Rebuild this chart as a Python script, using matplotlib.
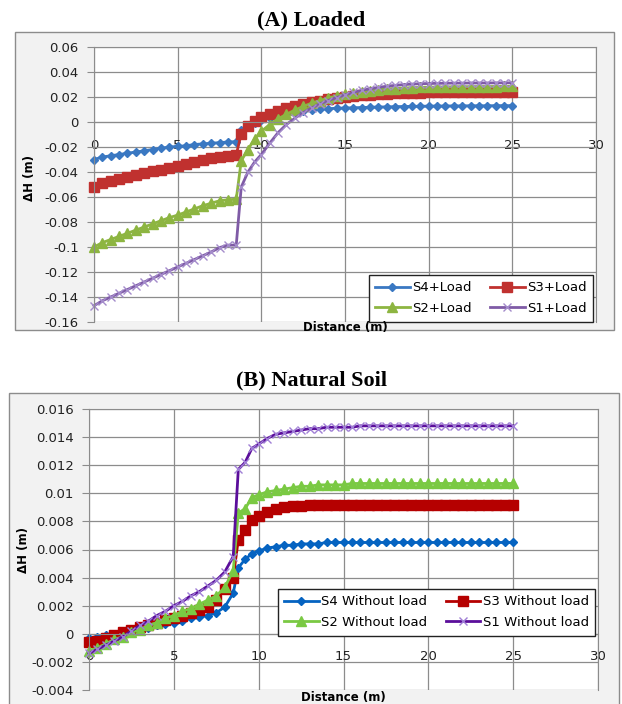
import matplotlib
matplotlib.use('Agg')
import matplotlib.pyplot as plt
from matplotlib.patches import Rectangle
from matplotlib.ticker import FuncFormatter

plt.rcParams['axes.unicode_minus'] = False
plt.rcParams['font.family'] = 'DejaVu Sans'

# distance along the section (m)
distance = [0, 0.5, 1, 1.5, 2, 2.5, 3, 3.5, 4, 4.5, 5, 5.5, 6, 6.5, 7, 7.5, 8, 8.5,
            8.8, 9.2, 9.6,
            10, 10.5, 11, 11.5, 12, 12.5, 13, 13.5, 14, 14.5, 15, 15.5, 16, 16.5, 17, 17.5,
            18, 18.5, 19, 19.5, 20, 20.5, 21, 21.5, 22, 22.5, 23, 23.5, 24, 24.5, 25]

# (A) loaded
s4_load = [-0.030, -0.028, -0.027, -0.026, -0.025, -0.024, -0.023, -0.022, -0.021, -0.020,
           -0.0195, -0.019, -0.018, -0.0175, -0.017, -0.0165, -0.016, -0.0157,
           -0.0064, -0.0030, -0.0005,
           0.0015, 0.0035, 0.0052, 0.0068, 0.0082, 0.0091, 0.0098, 0.0103, 0.0107, 0.0110,
           0.0112, 0.0114, 0.0116, 0.0118, 0.0120, 0.0121, 0.0123, 0.0124, 0.0125, 0.0126,
           0.0127, 0.0128, 0.0128, 0.0129, 0.0129, 0.0130, 0.0130, 0.0130, 0.0131, 0.0131, 0.0131]
s3_load = [-0.052, -0.049, -0.047, -0.0455, -0.044, -0.0425, -0.041, -0.0395, -0.038, -0.0365,
           -0.035, -0.0335, -0.032, -0.0305, -0.029, -0.0278, -0.0268, -0.0262,
           -0.0095, -0.0035, 0.0010,
           0.0042, 0.0068, 0.0092, 0.0113, 0.0130, 0.0146, 0.0160, 0.0172, 0.0183, 0.0193,
           0.0201, 0.0208, 0.0214, 0.0219, 0.0223, 0.0227, 0.0230, 0.0232, 0.0234, 0.0236,
           0.0237, 0.0238, 0.0239, 0.0240, 0.0241, 0.0241, 0.0242, 0.0242, 0.0243, 0.0243, 0.0243]
s2_load = [-0.100, -0.0965, -0.094, -0.0915, -0.089, -0.0865, -0.084, -0.0815, -0.079, -0.0765,
           -0.0745, -0.072, -0.0695, -0.067, -0.065, -0.063, -0.0622, -0.0618,
           -0.031, -0.022, -0.0135,
           -0.0075, -0.0020, 0.0025, 0.0062, 0.0095, 0.0125, 0.0150, 0.0172, 0.0192, 0.0208,
           0.0222, 0.0234, 0.0244, 0.0252, 0.0259, 0.0264, 0.0268, 0.0272, 0.0275, 0.0277,
           0.0279, 0.0280, 0.0281, 0.0282, 0.0283, 0.0283, 0.0284, 0.0284, 0.0284, 0.0285, 0.0285]
s1_load = [-0.147, -0.143, -0.140, -0.137, -0.134, -0.131, -0.128, -0.125, -0.122, -0.119,
           -0.116, -0.113, -0.110, -0.107, -0.104, -0.1005, -0.0985, -0.0985,
           -0.052, -0.040, -0.032,
           -0.026, -0.017, -0.0085, -0.002, 0.003, 0.0075, 0.0112, 0.0145, 0.0172, 0.0196,
           0.0218, 0.0237, 0.0253, 0.0266, 0.0277, 0.0286, 0.0293, 0.0299, 0.0303, 0.0306,
           0.0308, 0.0309, 0.0310, 0.0311, 0.0311, 0.0312, 0.0312, 0.0312, 0.0313, 0.0313, 0.0313]

# (B) natural soil
s4_nat = [-0.0003, -0.0002, -0.0001, 0.0000, 0.0001, 0.0002, 0.0003, 0.0004, 0.0006, 0.0007,
          0.0008, 0.0009, 0.0011, 0.0012, 0.0013, 0.0015, 0.0019, 0.0029,
          0.0047, 0.0053, 0.0057,
          0.0059, 0.0061, 0.0062, 0.0063, 0.0063, 0.0064, 0.0064, 0.0064, 0.0065, 0.0065,
          0.0065, 0.0065, 0.0065, 0.0065, 0.0065, 0.0065, 0.0065, 0.0065, 0.0065, 0.0065,
          0.0065, 0.0065, 0.0065, 0.0065, 0.0065, 0.0065, 0.0065, 0.0065, 0.0065, 0.0065, 0.0065]
s3_nat = [-0.0006, -0.0005, -0.0003, -0.0001, 0.0001, 0.0003, 0.0005, 0.0006, 0.0008, 0.0010,
          0.0011, 0.0013, 0.0015, 0.0017, 0.0019, 0.0024, 0.0032, 0.0040,
          0.0067, 0.0074, 0.0081,
          0.0084, 0.0087, 0.0089, 0.0090, 0.0091, 0.0091, 0.0092, 0.0092, 0.0092, 0.0092,
          0.0092, 0.0092, 0.0092, 0.0092, 0.0092, 0.0092, 0.0092, 0.0092, 0.0092, 0.0092,
          0.0092, 0.0092, 0.0092, 0.0092, 0.0092, 0.0092, 0.0092, 0.0092, 0.0092, 0.0092, 0.0092]
s2_nat = [-0.0012, -0.0010, -0.0007, -0.0004, -0.0002, 0.0001, 0.0003, 0.0006, 0.0008, 0.0011,
          0.0013, 0.0016, 0.0018, 0.0021, 0.0024, 0.0027, 0.0033, 0.0045,
          0.0086, 0.0089, 0.0097,
          0.0099, 0.0101, 0.0102, 0.0103, 0.0104, 0.0105, 0.0105, 0.0106, 0.0106, 0.0106,
          0.0106, 0.0107, 0.0107, 0.0107, 0.0107, 0.0107, 0.0107, 0.0107, 0.0107, 0.0107,
          0.0107, 0.0107, 0.0107, 0.0107, 0.0107, 0.0107, 0.0107, 0.0107, 0.0107, 0.0107, 0.0107]
s1_nat = [-0.0014, -0.0011, -0.0008, -0.0005, -0.0002, 0.0002, 0.0006, 0.0009, 0.0013, 0.0016,
          0.0020, 0.0023, 0.0027, 0.0030, 0.0034, 0.0038, 0.0044, 0.0055,
          0.0117, 0.0122, 0.0132,
          0.0135, 0.0139, 0.0142, 0.0143, 0.0144, 0.0145, 0.0146, 0.0146, 0.0147, 0.0147,
          0.0147, 0.0147, 0.0148, 0.0148, 0.0148, 0.0148, 0.0148, 0.0148, 0.0148, 0.0148,
          0.0148, 0.0148, 0.0148, 0.0148, 0.0148, 0.0148, 0.0148, 0.0148, 0.0148, 0.0148, 0.0148]

labels_load = ['S4+Load', 'S3+Load', 'S2+Load', 'S1+Load']
labels_nat = ['S4 Without load', 'S3 Without load', 'S2 Without load', 'S1 Without load']
yticks_load = [0.06, 0.04, 0.02, 0, -0.02, -0.04, -0.06, -0.08, -0.1, -0.12, -0.14, -0.16]
yticks_nat = [0.016, 0.014, 0.012, 0.01, 0.008, 0.006, 0.004, 0.002, 0, -0.002, -0.004]

W, H = 622, 704


def fx(px):
    return px / W


def fy(py):
    return 1 - py / H


fig = plt.figure(figsize=(W / 100, H / 100), dpi=100)
fig.patch.set_facecolor('white')


def frame(x0, y0, x1, y1):
    fig.add_artist(Rectangle((fx(x0), fy(y1)), fx(x1) - fx(x0), fy(y0) - fy(y1),
                             transform=fig.transFigure, facecolor='#f2f2f2',
                             edgecolor='#8c8c8c', lw=1, zorder=0))


def panel(box, ylim, yticks, series, labels, styles, legend_at, title, title_y,
          ylab_xy, xlab_xy):
    x0, y0, x1, y1 = box
    ax = fig.add_axes([fx(x0), fy(y1), fx(x1) - fx(x0), fy(y0) - fy(y1)])
    ax.set_facecolor('white')
    ax.set_xlim(0, 30)
    ax.set_ylim(*ylim)
    ax.set_xticks(range(0, 31, 5))
    ax.set_yticks(yticks)
    ax.yaxis.set_major_formatter(FuncFormatter(lambda v, p: '%g' % (round(v, 4) + 0.0)))
    ax.grid(True, color='#8c8c8c', lw=0.9)
    ax.set_axisbelow(True)
    for s in ['top', 'right', 'left', 'bottom']:
        ax.spines[s].set_color('#8c8c8c')
    ax.spines['bottom'].set_position(('data', 0))
    ax.tick_params(axis='x', length=0, pad=12, labelsize=9.5, labelcolor='#222222')
    ax.tick_params(axis='y', length=5, direction='out', color='#8c8c8c', pad=6,
                   labelsize=9.5, labelcolor='#222222')

    lines = []
    for y, lab, st in zip(series, labels, styles):
        ln, = ax.plot(distance, y, label=lab, lw=2, clip_on=False, **st)
        lines.append(ln)
    order = [0, 2, 1, 3]
    leg = ax.legend([lines[i] for i in order], [labels[i] for i in order], ncol=2,
                    loc='upper left', bbox_to_anchor=(fx(legend_at[0]), fy(legend_at[1])),
                    bbox_transform=fig.transFigure, fontsize=9.5, fancybox=False,
                    framealpha=1, edgecolor='#222222', handlelength=2.6,
                    handletextpad=0.2, columnspacing=1.4, borderpad=0.5,
                    labelspacing=0.6)
    leg.get_frame().set_linewidth(1.0)

    fig.text(0.5, fy(title_y), title, family='Liberation Serif', weight='bold',
             size=16, ha='center', va='center')
    fig.text(fx(ylab_xy[0]), fy(ylab_xy[1]), 'ΔH (m)', rotation=90, weight='bold',
             size=8.5, ha='center', va='center')
    fig.text(fx(xlab_xy[0]), fy(xlab_xy[1]), 'Distance (m)', weight='bold',
             size=8.5, ha='center', va='center')
    return ax


styles_load = [
    dict(color='#3A78C2', marker='D', ms=4.5, mfc='#3A78C2', mec='#3A78C2'),
    dict(color='#C0312F', marker='s', ms=6.5, mfc='#C0312F', mec='#C0312F'),
    dict(color='#8DB541', marker='^', ms=6.5, mfc='#8DB541', mec='#8DB541'),
    dict(color='#7F5BA6', marker='x', ms=6, mew=1, mec='#A48CCB'),
]
styles_nat = [
    dict(color='#0563C1', marker='D', ms=4.5, mfc='#0563C1', mec='#0563C1'),
    dict(color='#B50000', marker='s', ms=7, mfc='#B50000', mec='#B50000'),
    dict(color='#7AC943', marker='^', ms=6.5, mfc='#7AC943', mec='#7AC943'),
    dict(color='#5B0E9B', marker='x', ms=6, mew=1, mec='#A07FD6'),
]

frame(15, 32, 614, 330)
frame(9, 393, 619, 712)

panel((94, 47, 596, 322), (-0.16, 0.06), yticks_load,
      [s4_load, s3_load, s2_load, s1_load], labels_load, styles_load,
      (362, 268), '(A) Loaded', 20, (30, 178), (345, 327))
panel((89, 409, 598, 690), (-0.004, 0.016), yticks_nat,
      [s4_nat, s3_nat, s2_nat, s1_nat], labels_nat, styles_nat,
      (271, 582), '(B) Natural Soil', 380, (24, 550), (343, 697))

fig.savefig('out.png', dpi=100)
